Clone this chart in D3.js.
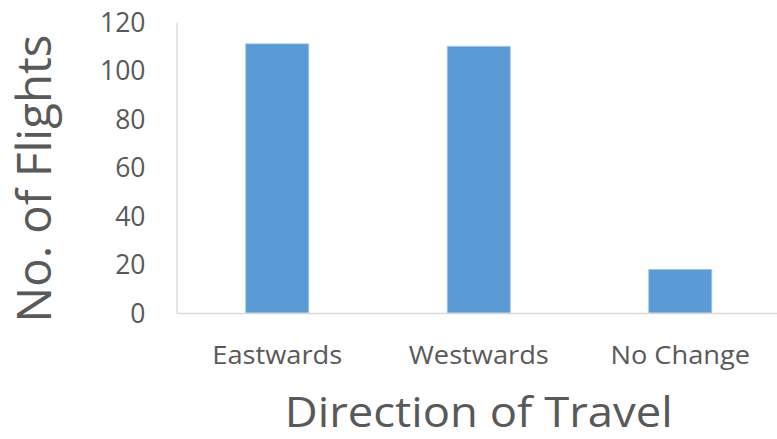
<!DOCTYPE html>
<html>
<head>
<meta charset="utf-8">
<script src="https://cdn.jsdelivr.net/npm/d3@7"></script>
<style>
  html, body { margin: 0; padding: 0; background: #ffffff; }
  svg { display: block; }
  text { font-family: "Open Sans", "Noto Sans", sans-serif; fill: #595959; }
</style>
</head>
<body>
<svg id="chart" width="777" height="439"></svg>
<script>
// Flight counts by direction of travel
const categories = ["Eastwards", "Westwards", "No Change"];
const flights = [111, 110, 18];
const yTicks = [0, 20, 40, 60, 80, 100, 120];

const svg = d3.select("#chart");
const plot = { left: 176.5, right: 781, top: 22, bottom: 313 };

const x = d3.scaleBand()
  .domain(categories)
  .range([plot.left, plot.right])
  .paddingInner(0.687)
  .paddingOuter(0.3435);

const y = d3.scaleLinear()
  .domain([0, 120])
  .range([plot.bottom, plot.top]);

// Bars
svg.append("g")
  .selectAll("rect")
  .data(categories)
  .join("rect")
  .attr("x", d => x(d))
  .attr("y", (d, i) => y(flights[i]))
  .attr("width", x.bandwidth())
  .attr("height", (d, i) => y(0) - y(flights[i]))
  .attr("fill", "#5b9bd5")
  .attr("stroke", "#a8c9ea")
  .attr("stroke-width", 0.8);

// Y axis: vertical rule and tick labels
const yAxis = svg.append("g")
  .attr("transform", `translate(${plot.left},0)`)
  .call(d3.axisLeft(y).tickValues(yTicks).tickSize(0).tickPadding(31));
yAxis.select(".domain").attr("stroke", "#d9d9d9").attr("stroke-width", 1.3);
yAxis.selectAll(".tick text")
  .style("font-size", "26.5px")
  .attr("fill", "#595959")
  .attr("dy", "0.35em");

// X axis: baseline and category labels
const xAxis = svg.append("g")
  .attr("transform", `translate(0,${plot.bottom})`)
  .call(d3.axisBottom(x).tickSize(0).tickPadding(33));
xAxis.select(".domain").attr("stroke", "#d9d9d9").attr("stroke-width", 1.3);
xAxis.selectAll(".tick text")
  .style("font-size", "25px")
  .attr("fill", "#595959")
  .attr("transform", "scale(1.09,1)");

// Axis titles
svg.append("text")
  .attr("transform", `translate(${x("Westwards") + x.bandwidth() / 2},427) scale(1.095,1)`)
  .attr("text-anchor", "middle")
  .style("font-size", "41.5px")
  .text("Direction of Travel");

svg.append("text")
  .attr("transform", "translate(51,178.5) rotate(-90)")
  .attr("text-anchor", "middle")
  .style("font-size", "47.3px")
  .text("No. of Flights");
</script>
</body>
</html>
